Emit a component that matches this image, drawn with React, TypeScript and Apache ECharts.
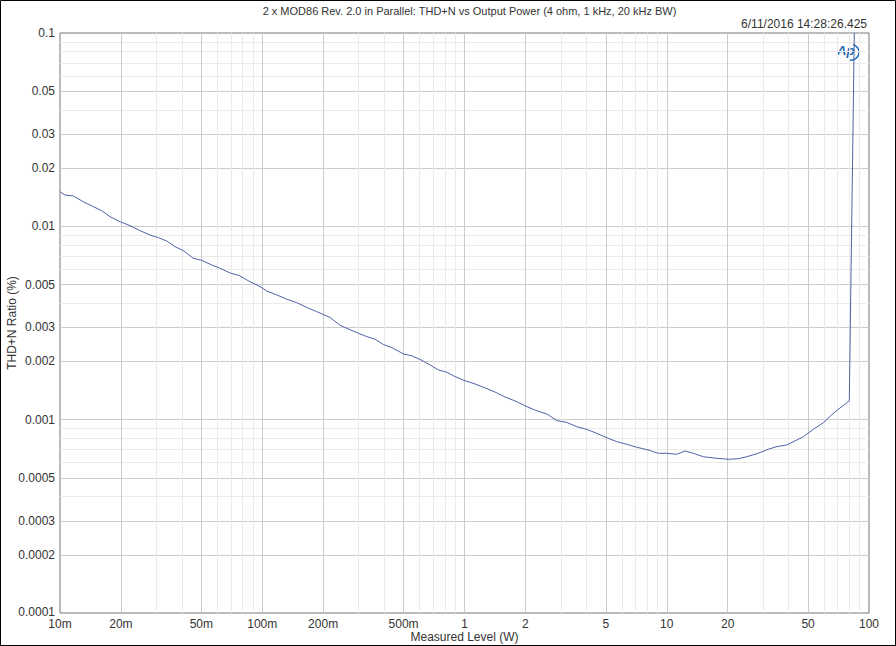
import React, { useEffect, useRef } from "react";
import * as echarts from "echarts";

// Measured output power (W)
const powerW: number[] = [
  0.01, 0.01058, 0.01164, 0.01304, 0.01461, 0.01608, 0.01767, 0.01981, 0.02219, 0.02487,
  0.02786, 0.03062, 0.03371, 0.03704, 0.04071, 0.04561, 0.05018, 0.05624, 0.06182, 0.06927,
  0.077, 0.08698, 0.09747, 0.1052, 0.1179, 0.1321, 0.148, 0.1659, 0.1859, 0.2163,
  0.2424, 0.2716, 0.2985, 0.3284, 0.3609, 0.3966, 0.4446, 0.4982, 0.5483, 0.6026,
  0.6751, 0.7421, 0.8166, 0.8974, 1.006, 1.127, 1.263, 1.415, 1.586, 1.777,
  1.991, 2.232, 2.55, 2.7, 2.858, 3.202, 3.587, 4.02, 4.505, 5.049,
  5.655, 6.339, 7.103, 8.105, 9.085, 9.995, 11.2, 12.31, 13.53, 15.16,
  17.66, 20.16, 22.58, 24.85, 28.36, 31.78, 34.97, 39.18, 43.07, 47.34,
  53.04, 59.45, 65.39, 71.88, 79.9, 84.6,
];

// THD+N ratio (%)
const thdN: number[] = [
  0.0151, 0.01452, 0.01436, 0.0134, 0.01264, 0.01205, 0.01122, 0.01057, 0.01008, 0.0095,
  0.00902, 0.00874, 0.0084, 0.00785, 0.00749, 0.00684, 0.00667, 0.00631, 0.00607, 0.00574,
  0.00556, 0.00517, 0.00488, 0.00463, 0.00442, 0.0042, 0.00403, 0.00381, 0.00362, 0.00338,
  0.00308, 0.00292, 0.0028, 0.00269, 0.00261, 0.00245, 0.00234, 0.00219, 0.00214, 0.00205,
  0.00192, 0.00181, 0.00176, 0.00167, 0.00159, 0.00153, 0.00146, 0.00139, 0.00131, 0.00125,
  0.00118, 0.00112, 0.00107, 0.00103, 0.000989, 0.000968, 0.00092, 0.000891, 0.00085, 0.000807,
  0.00077, 0.000746, 0.00072, 0.000697, 0.00067, 0.00067, 0.000662, 0.000689, 0.00067, 0.000643,
  0.000631, 0.000624, 0.000628, 0.000643, 0.00067, 0.000703, 0.000725, 0.00074, 0.000776, 0.000816,
  0.000891, 0.000964, 0.00106, 0.00115, 0.00125, 0.1,
];

// Axis ticks
const xTicks: number[] = [0.01, 0.02, 0.05, 0.1, 0.2, 0.5, 1, 2, 5, 10, 20, 50, 100];
const xTickLabels: string[] = ["10m", "20m", "50m", "100m", "200m", "500m", "1", "2", "5", "10", "20", "50", "100"];
const xMinorTicks: number[] = [
  0.03, 0.04, 0.06, 0.07, 0.08, 0.09, 0.3, 0.4, 0.6, 0.7, 0.8, 0.9,
  3, 4, 6, 7, 8, 9, 30, 40, 60, 70, 80, 90,
];
const yTicks: number[] = [0.0001, 0.0002, 0.0003, 0.0005, 0.001, 0.002, 0.003, 0.005, 0.01, 0.02, 0.03, 0.05, 0.1];
const yTickLabels: string[] = ["0.0001", "0.0002", "0.0003", "0.0005", "0.001", "0.002", "0.003", "0.005", "0.01", "0.02", "0.03", "0.05", "0.1"];
const yMinorTicks: number[] = [
  0.0004, 0.0006, 0.0007, 0.0008, 0.0009, 0.004, 0.006, 0.007, 0.008, 0.009,
  0.04, 0.06, 0.07, 0.08, 0.09,
];

const titleText = "2 x MOD86 Rev. 2.0 in Parallel: THD+N vs Output Power (4 ohm, 1 kHz, 20 kHz BW)";
const stampText = "6/11/2016 14:28:26.425";
const xName = "Measured Level (W)";
const yName = "THD+N Ratio (%)";

const FONT = "Liberation Sans";
const W = 896, H = 646;
const L = 60, R = 27, T = 33, B = 33;

const lg = (v: number) => Math.log10(v);
const labelFor = (ticks: number[], labels: string[], liftFirst: boolean) => (v: number) => {
  for (let i = 0; i < ticks.length; i++) {
    if (Math.abs(lg(ticks[i]) - v) < 1e-6) return liftFirst && i === 0 ? "{edge|" + labels[i] + "}" : labels[i];
  }
  return "";
};

export default function App() {
  const ref = useRef<HTMLDivElement>(null);
  useEffect(() => {
    if (!ref.current) return;
    const chart = echarts.init(ref.current, undefined, { renderer: "svg" });
    const majorLine = { show: true, lineStyle: { color: "#cccccc", width: 1 } };
    const minorLine = { show: true, lineStyle: { color: "#ebebeb", width: 1 } };
    const labelStyle = { color: "#333", fontSize: 12, fontFamily: FONT, lineHeight: 12 };
    chart.setOption({
      animation: false,
      backgroundColor: "#fff",
      title: {
        text: titleText,
        left: L + (W - L - R) / 2,
        textAlign: "center",
        top: 0,
        textStyle: { fontSize: 11, fontWeight: "normal", color: "#333", fontFamily: FONT },
      },
      grid: {
        left: L, right: R, top: T, bottom: B,
        containLabel: false, outerBoundsMode: "none",
        show: true, borderColor: "#777", borderWidth: 1, backgroundColor: "transparent",
      },
      xAxis: [
        {
          type: "log", logBase: 10, min: 0.01, max: 100, position: "bottom",
          axisLine: { show: false, onZero: false }, axisTick: { show: false },
          axisLabel: { show: false }, splitLine: { show: false },
        },
        {
          type: "value", min: -2, max: 2, position: "bottom",
          axisLine: { show: false, onZero: false },
          axisTick: { show: false, customValues: xTicks.slice(1, -1).map(lg) },
          axisLabel: { ...labelStyle, margin: 5, hideOverlap: false, customValues: xTicks.map(lg), formatter: labelFor(xTicks, xTickLabels, false) },
          splitLine: majorLine,
          name: xName, nameLocation: "middle", nameGap: 18, nameMoveOverlap: false,
          nameTextStyle: { ...labelStyle },
        },
        {
          type: "value", min: -2, max: 2, position: "bottom",
          axisLine: { show: false, onZero: false },
          axisTick: { show: false, customValues: xMinorTicks.map(lg) },
          axisLabel: { show: false }, splitLine: minorLine,
        },
      ],
      yAxis: [
        {
          type: "log", logBase: 10, min: 0.0001, max: 0.1, position: "left",
          axisLine: { show: false, onZero: false }, axisTick: { show: false },
          axisLabel: { show: false }, splitLine: { show: false },
        },
        {
          type: "value", min: -4, max: -1, position: "left",
          axisLine: { show: false, onZero: false },
          axisTick: { show: false, customValues: yTicks.slice(1, -1).map(lg) },
          axisLabel: {
            ...labelStyle, margin: 5, hideOverlap: false, customValues: yTicks.map(lg),
            formatter: labelFor(yTicks, yTickLabels, true),
            rich: { edge: { color: "#333", fontSize: 12, fontFamily: FONT, lineHeight: 12, padding: [0, 0, 2, 0] } },
          },
          splitLine: majorLine,
        },
        {
          type: "value", min: -4, max: -1, position: "left",
          axisLine: { show: false, onZero: false },
          axisTick: { show: false, customValues: yMinorTicks.map(lg) },
          axisLabel: { show: false }, splitLine: minorLine,
        },
      ],
      series: [
        {
          type: "line",
          xAxisIndex: 0, yAxisIndex: 0,
          data: powerW.map((p, i) => [p, thdN[i]]),
          showSymbol: false, symbol: "none",
          lineStyle: { color: "#4f62a6", width: 1 },
          z: 5,
        },
      ],
      graphic: [
        {
          type: "text", x: 12, y: T + (H - T - B) / 2, rotation: Math.PI / 2,
          style: { text: yName, fill: "#333", fontSize: 12, fontFamily: FONT, textAlign: "center", textVerticalAlign: "middle" },
        },
        {
          type: "text", right: R + 2, top: 18,
          style: { text: stampText, fill: "#333", fontSize: 12, fontFamily: FONT },
        },
        {
          type: "group", left: 837, top: 42, z: 10,
          children: [
            { type: "text", x: 0, y: 1, style: { text: "Ap", fill: "#1f6db5", fontSize: 13, fontWeight: "bold", fontStyle: "italic", fontFamily: FONT } },
            { type: "arc", shape: { cx: 14, cy: 9, r: 8, startAngle: -1.3, endAngle: 1.7 }, style: { stroke: "#1f6db5", lineWidth: 1.5, fill: null } },
          ],
        },
        {
          type: "rect", shape: { x: 0.5, y: 0.5, width: W - 1, height: H - 1 },
          style: { stroke: "#000", fill: null, lineWidth: 1 }, silent: true, z: 100,
        },
      ],
    });
    return () => chart.dispose();
  }, []);
  return (
    <div style={{ position: "absolute", left: 0, top: 0, width: W, height: H }}>
      <div ref={ref} style={{ width: W, height: H }} />
    </div>
  );
}
